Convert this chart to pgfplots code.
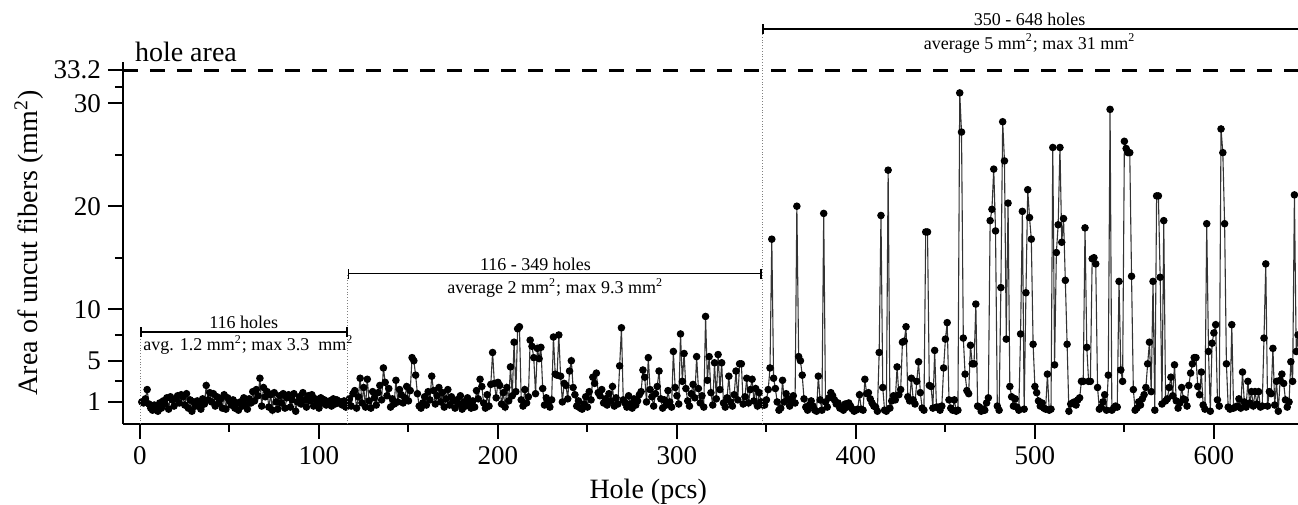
\documentclass[border=0pt]{standalone}
\usepackage{fontspec}
\setmainfont{Liberation Serif}
\usepackage{pgfplots}
\usepackage{pgfplotstable}
\pgfplotsset{compat=1.18}
\usetikzlibrary{arrows.meta}

% area of uncut fibers per hole, holes 1..648 (10 values per line)
\pgfplotstableread[row sep=\\]{
y\\
1.0\\0.9\\1.3\\2.2\\0.8\\0.4\\0.2\\0.7\\0.5\\0.1\\ % 1
0.9\\0.4\\1.1\\0.8\\1.4\\0.3\\1.5\\1.2\\0.6\\1.3\\ % 11
1.6\\0.9\\1.7\\1.5\\0.7\\1.8\\0.4\\1.2\\0.1\\1.0\\ % 21
0.6\\1.1\\0.9\\0.3\\1.3\\0.8\\2.6\\1.2\\1.9\\1.0\\ % 31
1.8\\0.6\\1.5\\0.9\\1.3\\0.4\\1.7\\0.3\\1.4\\1.1\\ % 41
0.7\\1.2\\0.4\\0.9\\0.2\\1.0\\0.6\\1.4\\0.8\\0.3\\ % 51
1.3\\0.9\\2.0\\1.1\\2.2\\1.6\\3.3\\0.6\\2.4\\1.5\\ % 61
2.0\\0.5\\1.7\\0.2\\1.9\\1.0\\0.3\\1.6\\0.9\\1.8\\ % 71
0.4\\1.4\\1.7\\0.5\\1.2\\1.8\\0.1\\1.0\\1.5\\0.8\\ % 81
1.9\\1.2\\0.5\\1.6\\1.1\\1.7\\0.6\\1.3\\1.0\\0.4\\ % 91
1.4\\0.9\\1.2\\0.7\\1.0\\1.1\\0.6\\1.3\\0.8\\1.2\\ % 101
0.9\\1.0\\0.7\\1.1\\0.5\\0.9\\ % 111
1.3\\0.6\\1.8\\2.1\\0.4\\1.5\\3.3\\0.9\\2.4\\0.5\\ % 117
3.2\\1.1\\0.4\\2.0\\1.4\\0.7\\1.9\\2.6\\1.2\\4.3\\ % 127
2.9\\1.6\\2.3\\0.5\\1.3\\0.8\\3.1\\1.0\\2.2\\1.7\\ % 137
0.9\\1.4\\2.5\\1.1\\2.1\\5.3\\5.0\\3.6\\1.8\\0.6\\ % 147
0.4\\0.9\\1.5\\0.7\\2.0\\1.2\\3.5\\2.1\\0.8\\1.6\\ % 157
2.4\\1.0\\1.9\\0.5\\1.3\\2.2\\0.7\\1.5\\1.1\\0.4\\ % 167
1.2\\0.8\\1.6\\0.3\\1.0\\0.6\\1.4\\0.9\\0.4\\1.1\\ % 177
0.5\\2.1\\1.3\\3.2\\2.5\\0.9\\0.4\\1.7\\0.6\\2.7\\ % 187
5.8\\2.8\\1.4\\2.9\\2.6\\0.8\\1.9\\0.5\\2.4\\1.1\\ % 197
4.4\\1.6\\6.8\\2.0\\8.1\\8.3\\1.2\\0.6\\2.2\\0.9\\ % 207
1.5\\7.0\\6.4\\5.3\\1.8\\6.2\\5.2\\6.3\\2.3\\0.7\\ % 217
1.4\\0.9\\0.5\\1.2\\7.3\\3.7\\3.6\\7.5\\3.5\\1.0\\ % 227
2.8\\2.6\\1.3\\4.0\\5.0\\2.4\\1.7\\0.6\\1.1\\0.4\\ % 237
0.3\\0.8\\1.5\\0.5\\2.0\\1.2\\3.4\\2.8\\3.8\\1.9\\ % 247
1.6\\2.2\\0.9\\1.3\\0.7\\1.8\\1.1\\2.5\\0.6\\1.4\\ % 257
0.8\\4.5\\8.2\\1.2\\0.9\\0.5\\1.6\\0.8\\0.4\\1.3\\ % 267
0.7\\1.1\\1.7\\2.0\\4.1\\3.4\\1.0\\5.3\\2.2\\1.5\\ % 277
0.6\\1.8\\2.5\\4.0\\1.3\\0.4\\1.2\\0.7\\2.1\\1.0\\ % 287
0.5\\5.9\\2.4\\1.6\\0.8\\7.6\\3.0\\5.7\\2.3\\1.1\\ % 297
0.6\\1.8\\2.7\\1.4\\5.4\\2.3\\0.9\\1.6\\0.5\\9.3\\ % 307
3.1\\5.4\\1.9\\0.7\\4.8\\1.3\\5.6\\2.2\\4.8\\0.9\\ % 317
0.5\\1.4\\3.5\\1.0\\0.6\\1.7\\4.0\\1.2\\4.7\\4.7\\ % 327
0.8\\1.5\\3.3\\0.9\\2.2\\3.2\\1.1\\2.3\\0.6\\1.9\\ % 337
1.0\\0.7\\ % 347
0.7\\1.2\\2.2\\4.3\\16.8\\3.3\\2.3\\1.0\\0.2\\0.4\\ % 349
3.1\\1.0\\1.8\\1.3\\0.6\\1.0\\1.6\\0.9\\20.0\\5.4\\ % 359
5.0\\3.6\\1.3\\0.5\\0.2\\0.7\\1.1\\0.6\\0.2\\0.1\\ % 369
3.5\\1.2\\0.2\\19.3\\1.0\\0.5\\1.4\\1.9\\1.6\\1.2\\ % 379
0.8\\0.9\\0.4\\0.5\\0.2\\0.8\\0.5\\0.9\\0.6\\0.3\\ % 389
0.1\\0.2\\0.3\\1.7\\0.3\\0.2\\3.2\\1.8\\1.9\\1.3\\ % 399
0.9\\0.6\\0.5\\0.1\\5.8\\19.1\\2.4\\0.2\\0.1\\23.5\\ % 409
0.4\\1.1\\1.6\\1.2\\4.4\\1.7\\2.2\\6.8\\6.9\\8.3\\ % 419
1.5\\1.1\\3.3\\1.2\\0.8\\3.0\\4.9\\1.9\\0.4\\0.2\\ % 429
17.5\\17.5\\2.6\\2.5\\0.4\\6.0\\0.5\\0.5\\0.2\\0.6\\ % 439
4.3\\7.1\\8.7\\1.2\\0.4\\0.2\\1.2\\0.1\\0.2\\31.0\\ % 449
27.2\\7.2\\3.7\\2.1\\1.8\\6.5\\4.7\\4.7\\10.5\\0.6\\ % 459
0.5\\0.1\\0.3\\0.2\\0.9\\1.4\\18.6\\19.7\\23.6\\17.6\\ % 469
0.6\\0.2\\12.1\\28.2\\24.4\\7.1\\20.3\\2.5\\1.5\\0.6\\ % 479
1.3\\0.5\\0.2\\7.6\\19.5\\0.3\\11.6\\21.6\\18.9\\16.8\\ % 489
6.6\\2.5\\1.9\\1.1\\0.6\\0.9\\0.4\\0.3\\3.7\\0.2\\ % 499
0.3\\25.7\\4.6\\15.5\\18.2\\25.7\\16.5\\18.8\\12.8\\6.6\\ % 509
0.1\\0.8\\0.9\\1.0\\0.7\\1.2\\1.4\\3.0\\3.0\\17.9\\ % 519
6.3\\3.0\\3.0\\14.9\\15.0\\14.4\\2.4\\0.3\\0.5\\1.0\\ % 529
1.7\\0.2\\3.6\\29.4\\0.2\\0.4\\0.6\\0.5\\12.7\\4.1\\ % 539
3.0\\26.3\\25.6\\25.2\\25.2\\13.2\\2.2\\0.2\\0.4\\1.0\\ % 549
0.7\\1.3\\1.7\\2.4\\4.7\\6.8\\2.0\\12.7\\0.2\\21.0\\ % 559
21.0\\13.1\\0.8\\18.6\\1.1\\1.3\\2.4\\3.4\\1.6\\4.6\\ % 569
1.1\\0.4\\0.9\\2.4\\1.3\\1.2\\0.6\\2.6\\3.8\\4.7\\ % 579
5.3\\5.3\\2.5\\1.7\\3.9\\0.7\\0.3\\18.3\\5.9\\0.1\\ % 589
6.7\\7.7\\8.5\\1.2\\0.6\\27.5\\25.2\\18.3\\4.7\\0.5\\ % 599
0.3\\8.5\\0.4\\0.5\\0.6\\1.3\\0.4\\3.9\\1.0\\0.5\\ % 609
3.0\\0.9\\2.0\\0.6\\2.0\\0.8\\2.0\\0.5\\0.6\\7.2\\ % 619
14.4\\0.6\\2.0\\1.8\\6.2\\0.7\\3.0\\0.1\\3.1\\3.7\\ % 629
2.8\\1.2\\0.5\\1.0\\4.9\\3.0\\21.1\\5.9\\7.5\\1.0\\ % 639
}\holes

\begin{document}
\begin{tikzpicture}
\begin{axis}[
  scale only axis,
  width=587.5pt, height=181pt,
  xmin=-9.5, xmax=647,
  ymin=-1.14, ymax=34.0,
  axis x line*=bottom, axis y line*=left,
  axis line style={line width=1pt},
  xtick={0,100,...,600}, minor xtick={50,150,...,550,650},
  ytick={1,5,10,20,30,33.2}, yticklabels={1,5,10,20,30,33.2},
  minor ytick={3,7.5,15,25,31.6},
  tick align=outside,
  major tick length=7.5pt, minor tick length=4pt,
  tick style={black, line width=1pt},
  /pgf/number format/assume math mode=true,
  tick label style={font=\fontsize{13.5}{16}\selectfont},
  label style={font=\fontsize{14}{17}\selectfont},
  xlabel={Hole (pcs)},
  ylabel={Area of uncut fibers (mm\textsuperscript{2})},
  xlabel style={at={(axis description cs:0.447,0)}, anchor=center, yshift=-34pt},
  ylabel style={at={(axis description cs:0,0.5)}, anchor=center, yshift=47pt},
  clip mode=individual,
]
\addplot[black!80, line width=0.55pt, mark=*, mark size=1.6pt,
  mark options={fill=black, draw=black, solid}]
  table[x expr=\coordindex+1, y=y] {\holes};

% hole area limit
\draw[line width=1.3pt, dash pattern=on 7.5pt off 6pt] (axis cs:-9.5,33.2) -- (axis cs:647,33.2);
\node[anchor=base west, inner sep=0, font=\fontsize{14}{17}\selectfont] at (axis cs:-3,34.07) {hole area};

% group brackets
\draw[gray, densely dotted, line width=0.4pt] (axis cs:0,-1.14) -- (axis cs:0,7.8);
\draw[gray, densely dotted, line width=0.4pt] (axis cs:116,-1.14) -- (axis cs:116,13.45);
\draw[gray, densely dotted, line width=0.4pt] (axis cs:347.5,-1.14) -- (axis cs:347.5,37.2);
\draw[line width=0.8pt, {Bar[width=5pt]}-{Bar[width=5pt]}] (axis cs:0,7.8) -- (axis cs:116,7.8);
\draw[line width=0.8pt, {Bar[width=5pt]}-{Bar[width=5pt]}] (axis cs:116,13.45) -- (axis cs:347.5,13.45);
\draw[line width=0.8pt, {Bar[width=5pt]}-] (axis cs:347.5,37.2) -- (axis cs:647,37.2);

\begin{scope}[font=\fontsize{9}{11}\selectfont]
\node[above, inner sep=1.5pt] at (axis cs:58,7.8) {116 holes};
\node[below right, inner sep=1.5pt] at (axis cs:0,7.8) {avg. 1.2 mm\textsuperscript{2}; max 3.3\ \ mm\textsuperscript{2}};
\node[above, inner sep=1.5pt] at (axis cs:221,13.45) {116 - 349 holes};
\node[below, inner sep=2pt] at (axis cs:232,13.45) {average 2 mm\textsuperscript{2}; max 9.3 mm\textsuperscript{2}};
\node[above, inner sep=1.5pt] at (axis cs:497,37.2) {350 - 648 holes};
\node[below, inner sep=2pt] at (axis cs:497,37.2) {average 5 mm\textsuperscript{2}; max 31 mm\textsuperscript{2}};
\end{scope}
\end{axis}
\pgfresetboundingbox
\path ([shift={(-61.5pt,-40.5pt)}]current axis.south west) rectangle ([shift={(0pt,31pt)}]current axis.north east);
\end{tikzpicture}
\end{document}
